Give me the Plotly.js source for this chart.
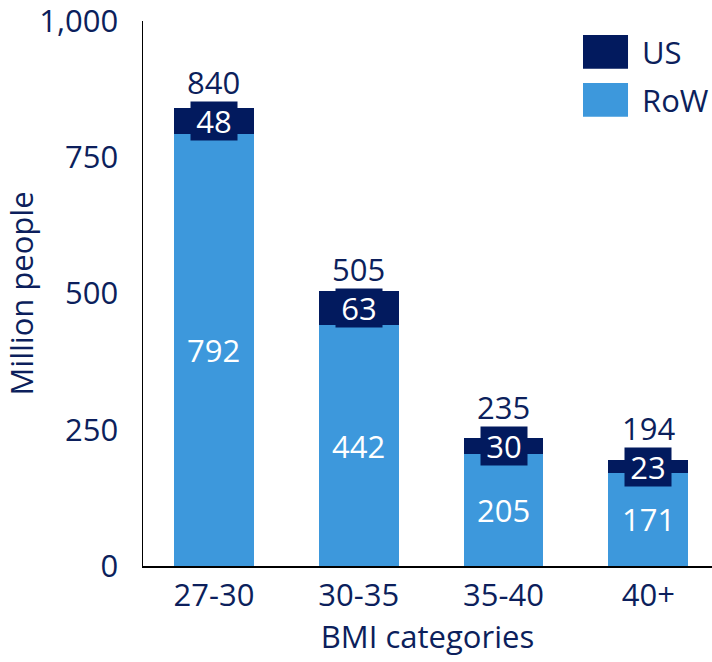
<!DOCTYPE html>
<html><head><meta charset="utf-8">
<script src="https://cdn.plot.ly/plotly-3.0.1.min.js"></script>
<style>html,body{margin:0;padding:0;background:#fff}#chart{width:712px;height:662px}</style>
</head><body><div id="chart"></div>
<script>
const categories = ['27-30','30-35','35-40','40+'];
const rowValues = [792, 442, 205, 171];
const usValues = [48, 63, 30, 23];
const totals = [840, 505, 235, 194];
const yTicks = [0, 250, 500, 750, 1000];

const NAVY = '#021a5e';
const BLUE = '#3d98dc';
const TXT = '#0c1f5c';
const FONT = '"Open Sans", "Noto Sans", sans-serif';
const FS = 31;
const PX_PER_UNIT = 545 / 1000; // plot height / y range, used only to clear the label boxes

const traces = [
  {type:'bar', name:'RoW', x:categories, y:rowValues, marker:{color:BLUE}, width:0.552, hoverinfo:'skip'},
  {type:'bar', name:'US', x:categories, y:usValues, marker:{color:NAVY}, width:0.552, hoverinfo:'skip'}
];

const ann = [];
categories.forEach((c,i)=>{
  ann.push({x:c, y:rowValues[i]/2, xref:'x', yref:'y', text:String(rowValues[i]), showarrow:false,
    font:{family:FONT, size:FS, color:'#ffffff'}});
  ann.push({x:c, y:rowValues[i]+usValues[i]/2, xref:'x', yref:'y', text:String(usValues[i]), showarrow:false,
    font:{family:FONT, size:FS, color:'#ffffff'}, bgcolor:NAVY, width:46, height:38, borderpad:0});
  const boxOver = Math.max(0, 19 - usValues[i]*PX_PER_UNIT/2);
  ann.push({x:c, y:totals[i], xref:'x', yref:'y', text:String(totals[i]), showarrow:false, yanchor:'middle', yshift:20 + boxOver,
    font:{family:FONT, size:FS, color:TXT}});
});
// legend
ann.push({x:0.8735, y:0.9431, xref:'paper', yref:'paper', text:'US', showarrow:false, xanchor:'left', yanchor:'middle', font:{family:FONT, size:FS, color:TXT}});
ann.push({x:0.8735, y:0.855, xref:'paper', yref:'paper', text:'RoW', showarrow:false, xanchor:'left', yanchor:'middle', font:{family:FONT, size:FS, color:TXT}});
const shapes = [
  {type:'rect', xref:'paper', yref:'paper', x0:0.7733, x1:0.8524, y0:0.9125, y1:0.9743, fillcolor:NAVY, line:{width:0}},
  {type:'rect', xref:'paper', yref:'paper', x0:0.7733, x1:0.8524, y0:0.8244, y1:0.8862, fillcolor:BLUE, line:{width:0}}
];

const layout = {
  width:712, height:662,
  margin:{l:143, r:0, t:21, b:96},
  barmode:'stack', showlegend:false,
  paper_bgcolor:'#fff', plot_bgcolor:'#fff',
  font:{family:FONT, size:FS, color:TXT},
  xaxis:{range:[-0.49,3.44], showline:true, linecolor:'#000', linewidth:1.5, ticks:'', showgrid:false, zeroline:false,
    tickfont:{family:FONT, size:FS, color:TXT}, ticklabelstandoff:1,
    title:{text:'BMI categories', font:{family:FONT, size:FS, color:TXT}, standoff:6}},
  yaxis:{range:[0,1000], tickvals:yTicks, tickformat:',d', showline:true, linecolor:'#000', linewidth:1.5, ticks:'', showgrid:false, zeroline:false,
    tickfont:{family:FONT, size:FS, color:TXT}, ticklabelstandoff:17, ticklabeloverflow:'allow',
    title:{text:'Million people', font:{family:FONT, size:FS, color:TXT}, standoff:4}},
  annotations:ann, shapes:shapes
};
Plotly.newPlot('chart', traces, layout, {displayModeBar:false, staticPlot:true});
</script></body></html>
